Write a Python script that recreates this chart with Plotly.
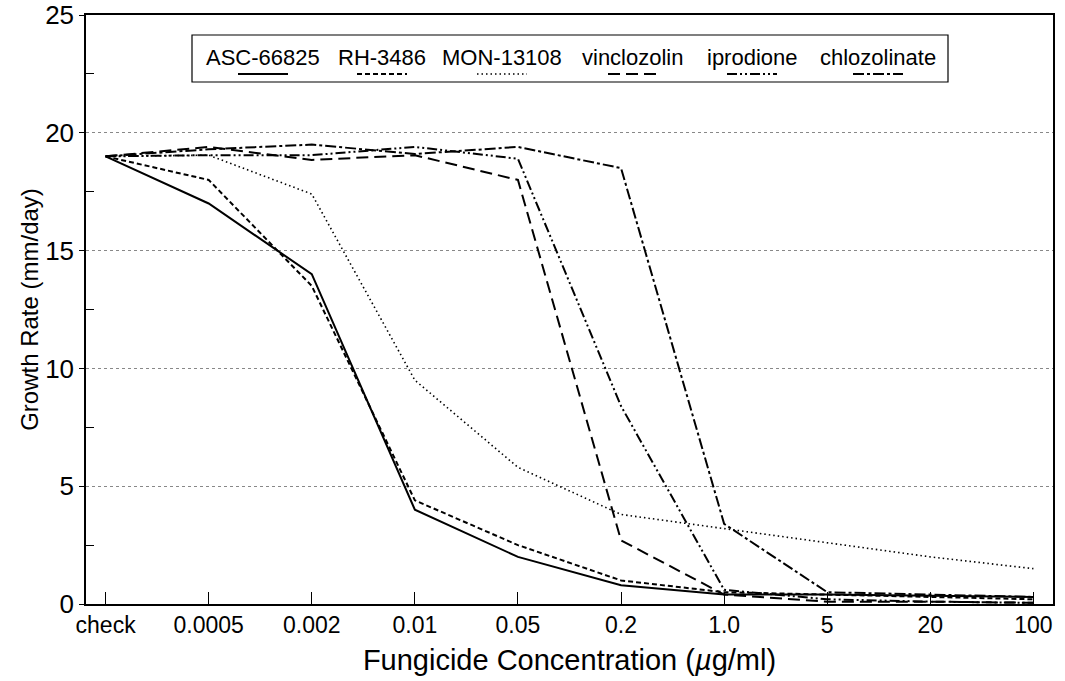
import plotly.graph_objects as go

concentrations = ["check", "0.0005", "0.002", "0.01", "0.05", "0.2", "1.0", "5", "20", "100"]

asc_66825 = [19.0, 17.0, 14.0, 4.0, 2.0, 0.8, 0.4, 0.4, 0.35, 0.3]
rh_3486 = [19.0, 18.0, 13.5, 4.4, 2.5, 1.0, 0.5, 0.4, 0.3, 0.2]
mon_13108 = [19.0, 19.05, 17.4, 9.5, 5.8, 3.8, 3.2, 2.6, 2.0, 1.5]
vinclozolin = [19.0, 19.4, 18.85, 19.05, 18.0, 2.7, 0.4, 0.1, 0.1, 0.05]
iprodione = [19.0, 19.05, 19.05, 19.4, 18.9, 8.4, 0.6, 0.2, 0.1, 0.05]
chlozolinate = [19.0, 19.3, 19.5, 19.1, 19.4, 18.5, 3.4, 0.5, 0.4, 0.3]

series_names = ["ASC-66825", "RH-3486", "MON-13108", "vinclozolin", "iprodione", "chlozolinate"]
series_values = [asc_66825, rh_3486, mon_13108, vinclozolin, iprodione, chlozolinate]

# styles
dashes = ["solid", "5px,3px", "1.5px,3px", "12px,6px", "10px,3px,2px,3px,2px,3px", "11px,3px,3px,3px"]
widths = [2.0, 2.0, 1.6, 2.0, 2.0, 2.0]

# plot-area geometry in screen pixels (body margin removed below)
PL, PR, PT, PB = 86, 1053, 15, 604
def px_x(v):
    return (v - PL) / (PR - PL)
def px_y(v):
    return (PB - v) / (PB - PT)
legend_text_centers = [263, 382, 502, 633, 752, 878]
legend_text_y = 57
legend_sample_y = 74
legend_sample_half = 25
legend_box = (192, 35, 948, 82)

font_family = "Liberation Sans, Arial, sans-serif"

fig = go.Figure()
for name, vals, dash, w in zip(series_names, series_values, dashes, widths):
    fig.add_trace(go.Scatter(
        x=concentrations, y=vals, mode="lines", name=name,
        line=dict(color="black", width=w, dash=dash),
    ))

shapes = [dict(
    type="rect", xref="paper", yref="paper",
    x0=px_x(legend_box[0]), x1=px_x(legend_box[2]),
    y0=px_y(legend_box[3]), y1=px_y(legend_box[1]),
    line=dict(color="black", width=1.2), fillcolor="white", layer="above",
)]
annotations = []
for name, cx, dash, w in zip(series_names, legend_text_centers, dashes, widths):
    annotations.append(dict(
        xref="paper", yref="paper", x=px_x(cx), y=px_y(legend_text_y),
        text=name, showarrow=False, xanchor="center", yanchor="middle",
        font=dict(size=22, family=font_family, color="black"),
    ))
    shapes.append(dict(
        type="line", xref="paper", yref="paper",
        x0=px_x(cx - legend_sample_half), x1=px_x(cx + legend_sample_half),
        y0=px_y(legend_sample_y), y1=px_y(legend_sample_y),
        line=dict(color="black", width=w, dash=dash), layer="above",
    ))

W, H = 1065, 681
fig.update_layout(
    width=W, height=H,
    margin=dict(l=PL, r=W - PR, t=PT, b=H - PB, autoexpand=False),
    paper_bgcolor="white", plot_bgcolor="white",
    font=dict(family=font_family, color="black", size=21),
    showlegend=False,
    shapes=shapes,
    annotations=annotations,
    xaxis=dict(
        type="category", range=[-0.19, 9.19], automargin=False,
        showline=True, linecolor="black", linewidth=1.5, mirror=True,
        ticks="inside", ticklen=12, tickcolor="black", tickwidth=1,
        showgrid=False, zeroline=False,
        tickfont=dict(size=23),
        title=dict(text="Fungicide Concentration (<i>µ</i>g/ml)", font=dict(size=29), standoff=12),
    ),
    yaxis=dict(
        range=[0, 25], automargin=False,
        tickvals=[0, 5, 10, 15, 20, 25],
        showline=True, linecolor="black", linewidth=1.5, mirror=True,
        ticks="outside", ticklen=5, tickcolor="black",
        showgrid=True, gridcolor="#888888", griddash="dot", gridwidth=1,
        zeroline=False,
        tickfont=dict(size=26),
        minor=dict(tickvals=[2.5, 7.5, 12.5, 17.5, 22.5], ticks="inside", ticklen=8,
                   tickcolor="black", showgrid=False),
        title=dict(text="Growth Rate (mm/day)", font=dict(size=24), standoff=0),
    ),
)

fig.write_html("out.html", config={"displayModeBar": False},
               post_script="document.body.style.margin='0px';")
